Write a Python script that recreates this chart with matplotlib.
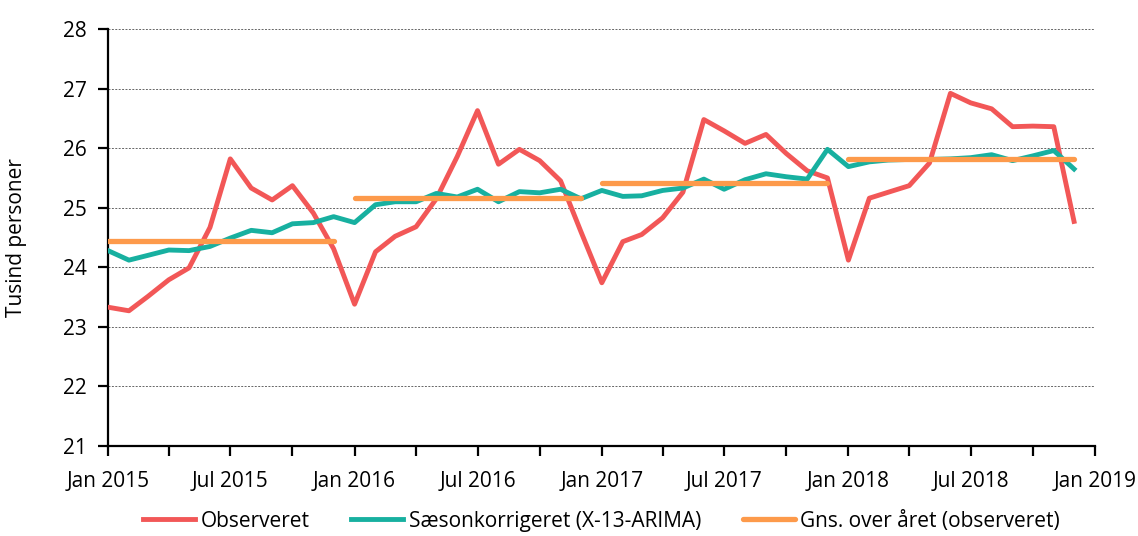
import pandas as pd
import matplotlib
matplotlib.use("Agg")
import matplotlib.pyplot as plt
import matplotlib.dates as mdates

plt.rcParams["font.family"] = ["Open Sans", "DejaVu Sans"]

# Monthly data, Jan 2015 - Dec 2018 (thousand persons)
months = pd.date_range("2015-01-01", "2018-12-01", freq="MS")

observed = [
    23.33, 23.27, 23.51, 23.79, 23.99, 24.67, 25.82, 25.33, 25.13, 25.37, 24.91, 24.31,
    23.38, 24.26, 24.52, 24.68, 25.15, 25.86, 26.63, 25.73, 25.98, 25.79, 25.45, 24.60,
    23.74, 24.43, 24.55, 24.83, 25.26, 26.48, 26.29, 26.08, 26.23, 25.91, 25.62, 25.50,
    24.12, 25.16, 25.26, 25.37, 25.75, 26.92, 26.76, 26.66, 26.36, 26.37, 26.36, 24.77,
]

seasonal = [
    24.28, 24.12, 24.20, 24.29, 24.28, 24.35, 24.49, 24.62, 24.58, 24.73, 24.75, 24.85,
    24.75, 25.05, 25.10, 25.10, 25.24, 25.18, 25.31, 25.10, 25.27, 25.25, 25.31, 25.15,
    25.29, 25.19, 25.20, 25.29, 25.33, 25.48, 25.31, 25.47, 25.57, 25.52, 25.48, 25.98,
    25.69, 25.77, 25.80, 25.81, 25.81, 25.82, 25.84, 25.89, 25.79, 25.87, 25.96, 25.65,
]

years = [2015, 2016, 2017, 2018]
year_avg = [24.44, 25.17, 25.41, 25.82]

red = "#F25757"
teal = "#17B0A0"
orange = "#FD9A4B"

fig = plt.figure(figsize=(11.38, 5.36), dpi=100)
ax = fig.add_axes([0.0949, 0.1679, 0.8673, 0.778])

ax.plot(months, observed, color=red, lw=3.5, label="Observeret", zorder=3)
ax.plot(months, seasonal, color=teal, lw=3.5, label="Sæsonkorrigeret (X-13-ARIMA)", zorder=4)

for i, (yr, avg) in enumerate(zip(years, year_avg)):
    m = months[months.year == yr]
    ax.plot([m[0], m[-1]], [avg, avg], color=orange, lw=3.8, solid_capstyle="round",
            label="Gns. over året (observeret)" if i == 0 else None, zorder=5)

ax.set_xlim(pd.Timestamp("2015-01-01"), pd.Timestamp("2019-01-01"))
ax.set_ylim(21, 28)
ax.set_yticks(range(21, 29))

ax.xaxis.set_major_locator(mdates.MonthLocator(bymonth=[1, 7]))
ax.xaxis.set_minor_locator(mdates.MonthLocator(bymonth=[4, 10]))
ax.xaxis.set_major_formatter(mdates.DateFormatter("%b %Y"))

ax.grid(axis="y", color="#666666", linestyle=(0, (2, 1.5)), linewidth=0.7)
ax.set_axisbelow(True)

for side in ["top", "right"]:
    ax.spines[side].set_visible(False)
ax.spines["left"].set_linewidth(1.6)
ax.spines["bottom"].set_linewidth(1.6)

ax.tick_params(axis="both", which="both", direction="out", width=1.6, length=7,
               labelsize=15, colors="black")
ax.tick_params(axis="x", pad=11)
ax.tick_params(axis="y", pad=8)

ax.set_ylabel("Tusind personer", fontsize=15, labelpad=26)

ax.legend(loc="upper center", bbox_to_anchor=(0.5, -0.11), ncol=3, frameon=False,
          fontsize=15, handlelength=2.5, handletextpad=0.25, columnspacing=2.0)

fig.savefig("out.png", dpi=100)
